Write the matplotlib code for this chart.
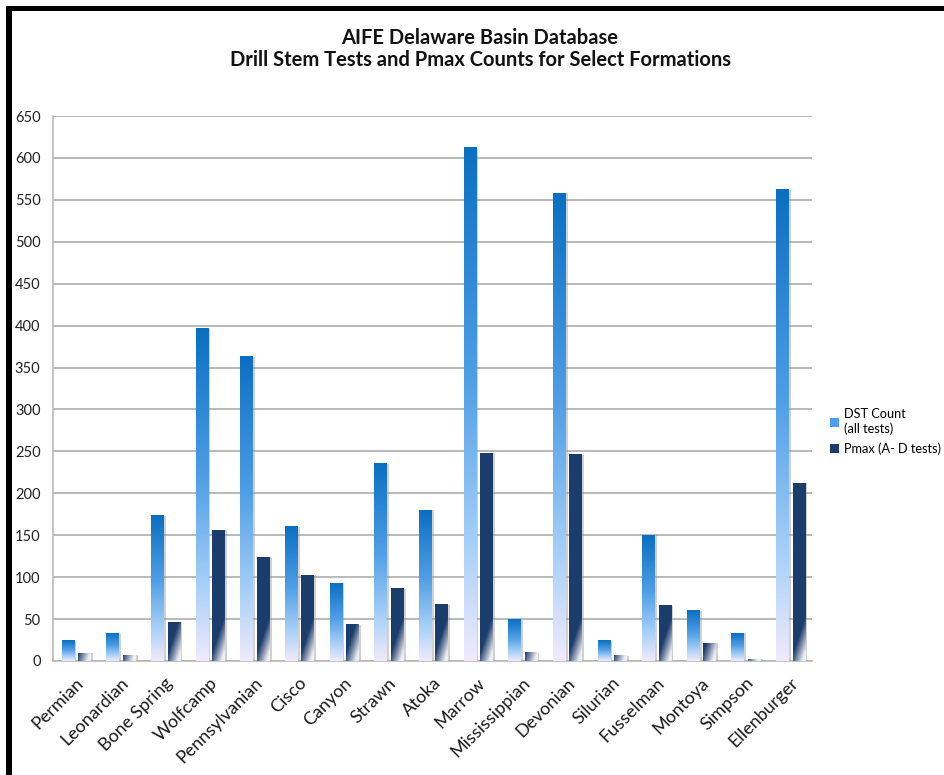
import numpy as np
import matplotlib
matplotlib.use('Agg')
import matplotlib.pyplot as plt
from matplotlib.colors import LinearSegmentedColormap
from matplotlib.patches import Patch, Rectangle

# formations and counts
formations = ['Permian', 'Leonardian', 'Bone Spring', 'Wolfcamp', 'Pennsylvanian',
              'Cisco', 'Canyon', 'Strawn', 'Atoka', 'Marrow', 'Mississippian',
              'Devonian', 'Silurian', 'Fusselman', 'Montoya', 'Simpson', 'Ellenburger']
dst_count = [24, 33, 173, 396, 363, 160, 93, 235, 180, 612, 49, 558, 24, 150, 60, 33, 562]
pmax_count = [9, 7, 46, 156, 124, 102, 43, 86, 67, 248, 10, 246, 6, 66, 21, 2, 212]
yticks = list(range(0, 651, 50))

dstCmap = LinearSegmentedColormap.from_list('dst', [(0.0, '#f1eafc'), (0.22, '#a9d1f8'),
                                                    (0.55, '#4f9fe6'), (1.0, '#0a6fc2')])
pmaxCmap = LinearSegmentedColormap.from_list('pmax', ['#eef0f6', '#8593ad', '#1b3d6c'])

plt.rcParams['font.family'] = ['Lato', 'DejaVu Sans']

fig = plt.figure(figsize=(9.45, 7.75), dpi=100)
ax = fig.add_axes([0.0561, 0.1471, 0.8032, 0.7032])

x = np.arange(len(formations))
w = 0.27
offDst, offPmax = -0.17, 0.2

# drop shadows behind the bars
ax.bar(x + offDst + 0.06, dst_count, w, color='#9a9a9a', alpha=0.45, zorder=2, linewidth=0)
ax.bar(x + offPmax + 0.06, pmax_count, w, color='#9a9a9a', alpha=0.45, zorder=2, linewidth=0)
dstBars = ax.bar(x + offDst, dst_count, w, color='none', zorder=3, linewidth=0)
pmaxBars = ax.bar(x + offPmax, pmax_count, w, color='none', zorder=3, linewidth=0)

# vertical gradient for DST bars
grad = np.linspace(0, 1, 256).reshape(-1, 1)
for b in dstBars:
    x0, h = b.get_x(), b.get_height()
    ax.imshow(grad, extent=[x0, x0 + b.get_width(), 0, h], origin='lower',
              aspect='auto', cmap=dstCmap, zorder=3, interpolation='bicubic')

# navy with a diagonal fade at the lower right for Pmax bars
for b in pmaxBars:
    x0, h = b.get_x(), b.get_height()
    ys = np.linspace(0, h, 200).reshape(-1, 1)
    xs = np.linspace(0, 1, 40).reshape(1, -1)
    d = ys / 45.0 - xs
    val = np.clip((d + 0.75) / 0.95, 0, 1)
    ax.imshow(val, extent=[x0, x0 + b.get_width(), 0, h], origin='lower',
              aspect='auto', cmap=pmaxCmap, vmin=0, vmax=1, zorder=3, interpolation='bilinear')

ax.set_xlim(-0.5, len(formations) - 0.5)
ax.set_ylim(0, 650)
ax.set_yticks(yticks)
ax.yaxis.grid(True, color='#a6a6a6', linewidth=1.1, zorder=1)
ax.set_axisbelow(True)
for s in ['top', 'right']:
    ax.spines[s].set_visible(False)
for s in ['left', 'bottom']:
    ax.spines[s].set_color('#b4b4b4')
    ax.spines[s].set_linewidth(1.1)
ax.tick_params(axis='both', length=0, colors='#222222')
ax.tick_params(axis='y', labelsize=10.5, pad=9)
ax.set_xticks(x)
ax.set_xticklabels(formations, rotation=45, ha='right', rotation_mode='anchor',
                   fontsize=13, color='#1a1a1a')
ax.tick_params(axis='x', pad=10)

fig.text(0.508, 0.951, 'AIFE Delaware Basin Database', ha='center', va='center',
         fontsize=14.5, fontweight='bold', color='#111111')
fig.text(0.508, 0.922, 'Drill Stem Tests and Pmax Counts for Select Formations', ha='center',
         va='center', fontsize=14.5, fontweight='bold', color='#111111')

handles = [Patch(facecolor='#4a9fe6', edgecolor='none'), Patch(facecolor='#1b3d6c', edgecolor='none')]
fig.legend(handles, ['DST Count\n(all tests)', 'Pmax (A- D tests)'], loc='center left',
           bbox_to_anchor=(0.866, 0.443), frameon=False, fontsize=9.2,
           handlelength=0.7, handleheight=0.7, handletextpad=0.4, labelspacing=0.6)

# black frame along top and left edges
fig.add_artist(Rectangle((6 / 945, 1 - 11 / 775), 1, 5 / 775, transform=fig.transFigure,
                         color='black', linewidth=0))
fig.add_artist(Rectangle((6 / 945, 0), 6 / 945, 1 - 6 / 775, transform=fig.transFigure,
                         color='black', linewidth=0))

fig.savefig('out.png', dpi=100)
